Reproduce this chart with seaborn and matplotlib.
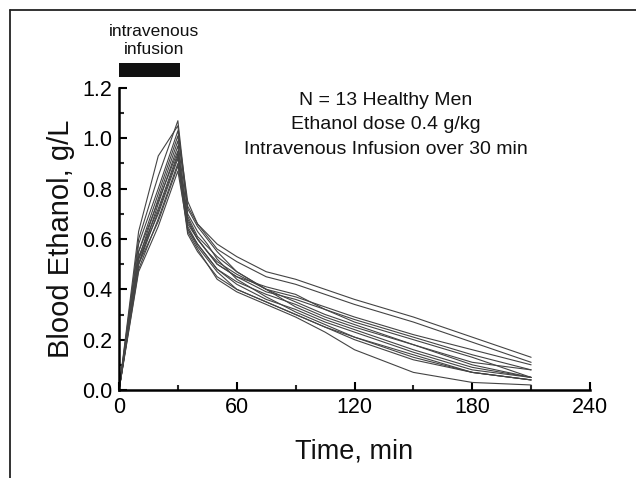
import numpy as np
import pandas as pd
import matplotlib
matplotlib.use("Agg")
import matplotlib.pyplot as plt
from matplotlib.lines import Line2D
from matplotlib.patches import Rectangle
import seaborn as sns

times = [0, 10, 20, 30, 35, 40, 45, 50, 60, 75, 90, 105, 120, 150, 180, 210]
s1 = [0, 0.60, 0.85, 1.07, 0.72, 0.65, 0.60, 0.55, 0.47, 0.40, 0.35, 0.30, 0.26, 0.18, 0.10, 0.05]
s2 = [0, 0.63, 0.93, 1.05, 0.70, 0.63, 0.58, 0.52, 0.44, 0.37, 0.31, 0.26, 0.21, 0.13, 0.07, 0.04]
s3 = [0, 0.58, 0.80, 1.03, 0.75, 0.66, 0.62, 0.58, 0.53, 0.47, 0.44, 0.40, 0.36, 0.29, 0.21, 0.13]
s4 = [0, 0.55, 0.78, 1.01, 0.73, 0.66, 0.61, 0.56, 0.51, 0.45, 0.42, 0.38, 0.34, 0.27, 0.19, 0.11]
s5 = [0, 0.52, 0.76, 0.99, 0.68, 0.60, 0.55, 0.51, 0.46, 0.40, 0.37, 0.33, 0.29, 0.22, 0.16, 0.10]
s6 = [0, 0.50, 0.74, 0.97, 0.66, 0.60, 0.55, 0.50, 0.45, 0.41, 0.38, 0.32, 0.28, 0.21, 0.14, 0.08]
s7 = [0, 0.55, 0.75, 0.95, 0.64, 0.57, 0.52, 0.47, 0.40, 0.35, 0.30, 0.25, 0.21, 0.14, 0.07, 0.04]
s8 = [0, 0.53, 0.72, 0.94, 0.65, 0.58, 0.53, 0.48, 0.42, 0.36, 0.32, 0.27, 0.23, 0.15, 0.08, 0.05]
s9 = [0, 0.50, 0.71, 0.93, 0.63, 0.56, 0.50, 0.44, 0.39, 0.34, 0.29, 0.23, 0.16, 0.07, 0.03, 0.02]
s10 = [0, 0.52, 0.70, 0.92, 0.67, 0.60, 0.55, 0.50, 0.45, 0.39, 0.36, 0.32, 0.27, 0.20, 0.13, 0.05]
s11 = [0, 0.48, 0.68, 0.90, 0.62, 0.55, 0.50, 0.45, 0.40, 0.35, 0.30, 0.25, 0.20, 0.12, 0.07, 0.04]
s12 = [0, 0.50, 0.67, 0.89, 0.69, 0.61, 0.57, 0.53, 0.47, 0.40, 0.33, 0.28, 0.24, 0.16, 0.09, 0.05]
s13 = [0, 0.47, 0.65, 0.87, 0.64, 0.58, 0.53, 0.48, 0.43, 0.38, 0.34, 0.29, 0.25, 0.18, 0.11, 0.08]
subjects = [s1, s2, s3, s4, s5, s6, s7, s8, s9, s10, s11, s12, s13]

infusion_start = 0
infusion_end = 31
x_ticks = [0, 60, 120, 180, 240]
y_ticks = [0.0, 0.2, 0.4, 0.6, 0.8, 1.0, 1.2]

rows = []
for i, vals in enumerate(subjects):
    for t, v in zip(times, vals):
        rows.append({"subject": i + 1, "time": t, "ethanol": v})
df = pd.DataFrame(rows)

sns.set_theme(style="white")
plt.rcParams["font.family"] = ["Liberation Sans", "DejaVu Sans"]

fig = plt.figure(figsize=(6.36, 4.78), dpi=100)
ax = fig.add_axes([119 / 636, 1 - 390 / 478, 471 / 636, 302 / 478])

sns.lineplot(data=df, x="time", y="ethanol", units="subject", estimator=None,
             color="#444444", linewidth=0.8, ax=ax, legend=False)

ax.set_xlim(0, 240)
ax.set_ylim(0, 1.2)
ax.set_xticks(x_ticks)
ax.set_xticks([30, 90, 150, 210], minor=True)
ax.set_yticks(y_ticks)
ax.set_yticks([0.1, 0.3, 0.5, 0.7, 0.9, 1.1], minor=True)
ax.set_yticklabels([f"{v:.1f}" for v in y_ticks])
ax.tick_params(axis="both", which="major", direction="in", length=6, width=1.5,
               labelsize=15.5, colors="black", pad=5)
ax.tick_params(axis="both", which="minor", direction="in", length=3.5, width=1.5)
ax.tick_params(axis="x", which="both", bottom=True)
ax.tick_params(axis="y", which="both", left=True)
for side in ["top", "right"]:
    ax.spines[side].set_visible(False)
for side in ["left", "bottom"]:
    ax.spines[side].set_color("black")
    ax.spines[side].set_linewidth(1.8)

ax.set_xlabel("Time, min", fontsize=19.5, labelpad=15, color="#111111")
ax.set_ylabel("Blood Ethanol, g/L", fontsize=21, labelpad=5, color="#111111")

ax.add_patch(Rectangle((infusion_start, 1.245), infusion_end - infusion_start, 0.055,
                       facecolor="#111111", edgecolor="none", clip_on=False))
ax.text(17.8, 1.387, "intravenous\ninfusion", ha="center", va="center", fontsize=12.5,
        linespacing=1.25, color="#111111")

ax.text(136, 1.053, "N = 13 Healthy Men\nEthanol dose 0.4 g/kg\nIntravenous Infusion over 30 min",
        ha="center", va="center", fontsize=14, linespacing=1.55, color="#111111")

fig.add_artist(Line2D([10 / 636, 10 / 636], [0, 1 - 10 / 478], color="#222222", lw=1.3,
                      transform=fig.transFigure))
fig.add_artist(Line2D([10 / 636, 1], [1 - 10 / 478, 1 - 10 / 478], color="#222222", lw=1.3,
                      transform=fig.transFigure))

fig.savefig("out.png", dpi=100)
